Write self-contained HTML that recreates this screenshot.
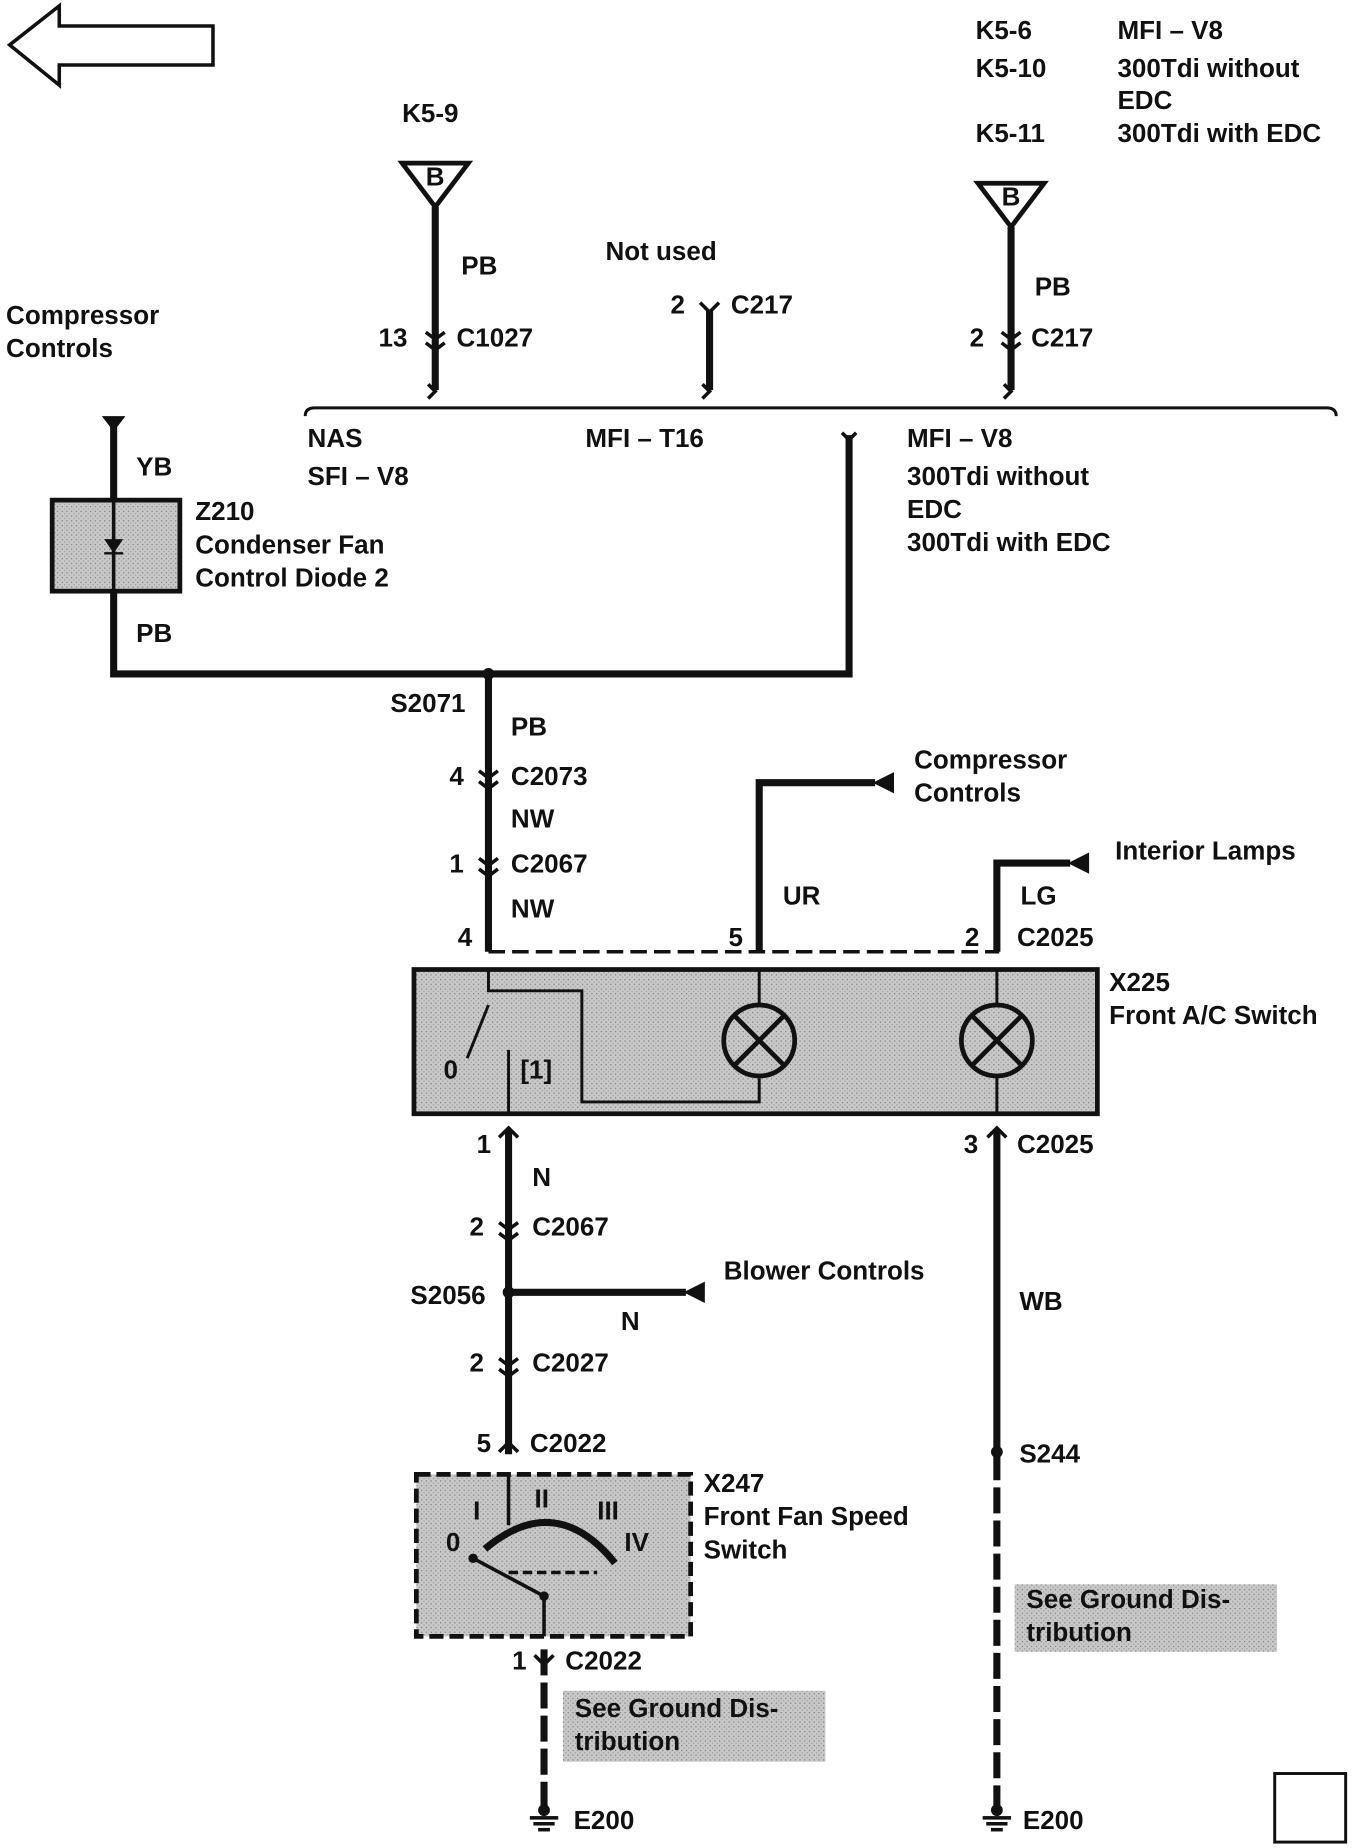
<!DOCTYPE html>
<html><head><meta charset="utf-8"><style>
html,body{margin:0;padding:0;background:#fff;}
svg{display:block;}
text{font-family:"Liberation Sans",Arial,sans-serif;font-weight:bold;font-size:22px;fill:#111;}
</style></head><body>
<svg width="1360" height="1848" viewBox="0 0 1150 1563" xmlns="http://www.w3.org/2000/svg">
<defs>
<pattern id="g" width="4" height="4" patternUnits="userSpaceOnUse"><rect width="4" height="4" fill="#c8c8c8"/><rect width="1" height="1" fill="#777"/><rect x="2" y="2" width="1" height="1" fill="#999"/></pattern>
</defs>
<polygon points="8,38 50,5 50,22 180,22 180,55 50,55 50,72" fill="none" stroke="#111" stroke-width="3"/>
<text x="340" y="103">K5-9</text>
<text x="825" y="33">K5-6</text><text x="945" y="33">MFI – V8</text>
<text x="825" y="65">K5-10</text><text x="945" y="65">300Tdi without</text>
<text x="945" y="92">EDC</text>
<text x="825" y="120">K5-11</text><text x="945" y="120">300Tdi with EDC</text>
<polygon points="340,138 396,138 368,175" fill="none" stroke="#111" stroke-width="4"/><text x="360" y="157" font-size="15">B</text>
<polygon points="827,155 883,155 855,192" fill="none" stroke="#111" stroke-width="4"/><text x="847" y="174" font-size="15">B</text>
<g stroke="#111" stroke-width="6" fill="none">
<line x1="368" y1="175" x2="368" y2="330"/>
<line x1="600" y1="262" x2="600" y2="330"/>
<line x1="855" y1="192" x2="855" y2="330"/>
<polyline points="96,355 96,570 718,570 718,368"/>
<line x1="413" y1="570" x2="413" y2="805"/>
<polyline points="642,805 642,662 740,662"/>
<polyline points="843,805 843,730 905,730"/>
<line x1="430" y1="955" x2="430" y2="1230"/>
<line x1="430" y1="1093" x2="580" y2="1093"/>
<line x1="843" y1="955" x2="843" y2="1230"/>
<line x1="843" y1="1230" x2="843" y2="1530" stroke-dasharray="22,6"/>
<line x1="460" y1="1395" x2="460" y2="1530" stroke-dasharray="22,6"/>
</g>
<polygon points="738,662 756,653 756,671" fill="#111"/>
<polygon points="903,730 921,721 921,739" fill="#111"/>
<polygon points="578,1093 596,1084 596,1102" fill="#111"/>
<polygon points="86,352 106,352 96,365" fill="#111"/>
<g stroke="#111" stroke-width="3" fill="none">
<path d="M360,281 l8,6 l8,-6 M360,290 l8,6 l8,-6"/>
<path d="M847,281 l8,6 l8,-6 M847,290 l8,6 l8,-6"/>
<path d="M592,256 l8,8 l8,-8"/>
<path d="M405,652 l8,6 l8,-6 M405,661 l8,6 l8,-6"/>
<path d="M405,726 l8,6 l8,-6 M405,735 l8,6 l8,-6"/>
<path d="M422,1034 l8,6 l8,-6 M422,1043 l8,6 l8,-6"/>
<path d="M422,1149 l8,6 l8,-6 M422,1158 l8,6 l8,-6"/>
<path d="M422,1228 l8,-8 l8,8"/>
<path d="M452,1400 l8,8 l8,-8"/>
<path d="M422,962 l8,-8 l8,8"/>
<path d="M835,962 l8,-8 l8,8"/>
<path d="M362,325 l6,6 l-6,6"/>
<path d="M594,325 l6,6 l-6,6"/>
<path d="M849,325 l6,6 l-6,6"/>
<path d="M712,366 l6,6 l6,-6"/>
</g>
<path d="M258,352 q0,-7 8,-7 L1122,345 q8,0 8,7" fill="none" stroke="#111" stroke-width="2.5"/>
<line x1="413" y1="805" x2="845" y2="805" stroke="#111" stroke-width="3" stroke-dasharray="14,6"/>
<text x="390" y="232">PB</text><text x="320" y="293">13</text><text x="386" y="293">C1027</text>
<text x="512" y="220">Not used</text><text x="567" y="265">2</text><text x="618" y="265">C217</text>
<text x="875" y="250">PB</text><text x="820" y="293">2</text><text x="872" y="293">C217</text>
<text x="5" y="274">Compressor</text><text x="5" y="302">Controls</text>
<text x="260" y="378">NAS</text><text x="260" y="410">SFI – V8</text>
<text x="495" y="378">MFI – T16</text>
<text x="767" y="378">MFI – V8</text><text x="767" y="410">300Tdi without</text><text x="767" y="438">EDC</text><text x="767" y="466">300Tdi with EDC</text>
<text x="115" y="402">YB</text><text x="115" y="543">PB</text>
<text x="165" y="440">Z210</text><text x="165" y="468">Condenser Fan</text><text x="165" y="496">Control Diode 2</text>
<rect x="44" y="423" width="108" height="77" fill="url(#g)" stroke="#111" stroke-width="4"/>
<line x1="96" y1="423" x2="96" y2="500" stroke="#111" stroke-width="3"/>
<polygon points="88,456 104,456 96,468" fill="#111"/><line x1="88" y1="468" x2="104" y2="468" stroke="#111" stroke-width="2"/>
<circle cx="413" cy="570" r="5" fill="#111"/>
<text x="330" y="602">S2071</text><text x="432" y="622">PB</text>
<text x="380" y="664">4</text><text x="432" y="664">C2073</text><text x="432" y="700">NW</text>
<text x="380" y="738">1</text><text x="432" y="738">C2067</text><text x="432" y="776">NW</text>
<text x="387" y="800">4</text><text x="616" y="800">5</text><text x="816" y="800">2</text><text x="860" y="800">C2025</text>
<text x="773" y="650">Compressor</text><text x="773" y="678">Controls</text>
<text x="662" y="765">UR</text><text x="863" y="765">LG</text><text x="943" y="727">Interior Lamps</text>
<rect x="350" y="820" width="578" height="122" fill="url(#g)" stroke="#111" stroke-width="4"/>
<g stroke="#111" stroke-width="2.5" fill="none">
<polyline points="413,820 413,838 492,838 492,932 642,932 642,912"/>
<line x1="413" y1="850" x2="395" y2="895"/>
<line x1="430" y1="888" x2="430" y2="942"/>
<line x1="642" y1="820" x2="642" y2="850"/>
<line x1="843" y1="820" x2="843" y2="850"/><line x1="843" y1="910" x2="843" y2="942"/>
<circle cx="642" cy="880" r="30" stroke-width="4"/><circle cx="843" cy="880" r="30" stroke-width="4"/>
<path d="M621,859 L663,901 M663,859 L621,901 M822,859 L864,901 M864,859 L822,901" stroke-width="4"/>
</g>
<text x="375" y="912">0</text><text x="440" y="912">[1]</text>
<text x="938" y="838">X225</text><text x="938" y="866">Front A/C Switch</text>
<text x="403" y="975">1</text><text x="815" y="975">3</text><text x="860" y="975">C2025</text>
<text x="450" y="1003">N</text><text x="397" y="1045">2</text><text x="450" y="1045">C2067</text>
<circle cx="430" cy="1093" r="5" fill="#111"/><text x="347" y="1103">S2056</text>
<text x="612" y="1082">Blower Controls</text><text x="525" y="1125">N</text>
<text x="397" y="1160">2</text><text x="450" y="1160">C2027</text>
<text x="403" y="1228">5</text><text x="448" y="1228">C2022</text>
<text x="862" y="1108">WB</text><circle cx="843" cy="1228" r="5" fill="#111"/><text x="862" y="1237">S244</text>
<rect x="352" y="1247" width="232" height="137" fill="url(#g)" stroke="#111" stroke-width="4" stroke-dasharray="12,5"/>
<g stroke="#111" stroke-width="3" fill="none">
<line x1="430" y1="1247" x2="430" y2="1290"/>
<path d="M410,1310 Q470,1260 520,1322" stroke-width="6"/>
<line x1="400" y1="1318" x2="460" y2="1350"/>
<line x1="430" y1="1330" x2="505" y2="1330" stroke-dasharray="8,4"/>
<line x1="460" y1="1350" x2="460" y2="1384"/>
</g>
<circle cx="400" cy="1318" r="4" fill="#111"/><circle cx="460" cy="1350" r="4" fill="#111"/>
<text x="400" y="1285">I</text><text x="452" y="1275">II</text><text x="505" y="1285">III</text><text x="528" y="1312">IV</text><text x="377" y="1312">0</text>
<text x="595" y="1262">X247</text><text x="595" y="1290">Front Fan Speed</text><text x="595" y="1318">Switch</text>
<text x="433" y="1412">1</text><text x="478" y="1412">C2022</text>
<rect x="476" y="1430" width="222" height="60" fill="url(#g)"/>
<text x="486" y="1452">See Ground Dis-</text><text x="486" y="1480">tribution</text>
<rect x="858" y="1340" width="222" height="57" fill="url(#g)"/>
<text x="868" y="1360">See Ground Dis-</text><text x="868" y="1388">tribution</text>
<g fill="#111">
<circle cx="460" cy="1531" r="5"/><rect x="448" y="1536" width="24" height="3"/><rect x="451" y="1541" width="18" height="3"/><rect x="455" y="1546" width="10" height="3"/>
<circle cx="843" cy="1531" r="5"/><rect x="831" y="1536" width="24" height="3"/><rect x="834" y="1541" width="18" height="3"/><rect x="838" y="1546" width="10" height="3"/>
</g>
<text x="485" y="1547">E200</text><text x="865" y="1547">E200</text>
<rect x="1078" y="1500" width="60" height="58" fill="none" stroke="#111" stroke-width="2.5"/>
</svg>
</body></html>
